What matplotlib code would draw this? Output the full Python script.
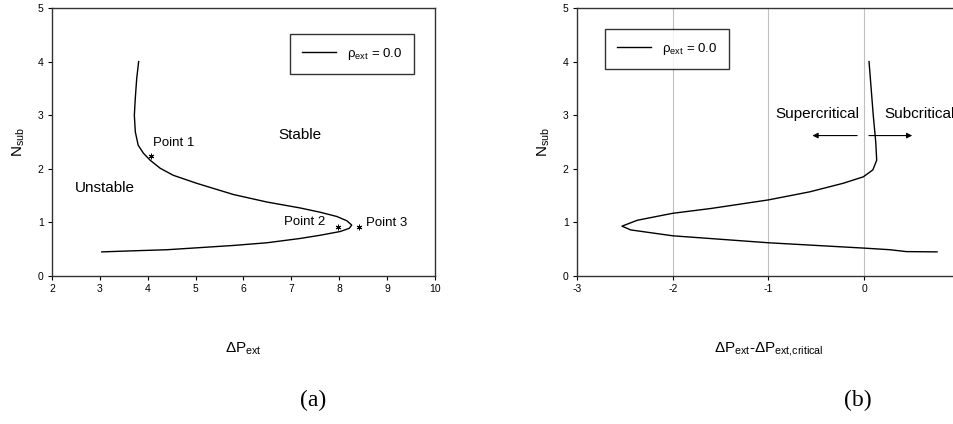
import matplotlib
matplotlib.use('Agg')
import matplotlib.pyplot as plt

plt.rcParams['font.family'] = ['Liberation Sans', 'DejaVu Sans']
plt.rcParams['mathtext.default'] = 'regular'
plt.rcParams['axes.unicode_minus'] = False

# (a) N_sub vs dP_ext
dp_a = [3.81, 3.77, 3.74, 3.72, 3.74, 3.80, 3.91, 4.05, 4.26, 4.53, 5.02, 5.79, 6.49,
        7.18, 7.60, 7.95, 8.16, 8.26, 8.21, 8.02, 7.60, 7.18, 6.49, 5.79, 5.10, 4.40,
        3.70, 3.04]
ns_a = [4.00, 3.69, 3.32, 3.00, 2.69, 2.44, 2.29, 2.16, 2.01, 1.88, 1.73, 1.52, 1.38,
        1.27, 1.19, 1.11, 1.03, 0.95, 0.89, 0.83, 0.76, 0.70, 0.62, 0.57, 0.53, 0.49,
        0.47, 0.45]
pts_x = [4.07, 7.98, 8.42]
pts_y = [2.23, 0.92, 0.92]

# (b) N_sub vs dP_ext - dP_crit
dp_b = [0.05, 0.094, 0.12, 0.13, 0.09, -0.01, -0.22, -0.57, -1.0, -1.60, -2.0, -2.37,
        -2.53, -2.44, -2.0, -1.0, 0.0, 0.27, 0.44, 0.76]
ns_b = [4.00, 3.00, 2.50, 2.16, 1.98, 1.85, 1.73, 1.57, 1.42, 1.26, 1.17, 1.04,
        0.93, 0.86, 0.75, 0.62, 0.52, 0.49, 0.455, 0.45]

fig = plt.figure(figsize=(9.54, 4.24), dpi=100)
ax1 = fig.add_axes([52/954, 1-276/424, 383/954, 268/424])
ax2 = fig.add_axes([577/954, 1-276/424, 383/954, 268/424])

for ax in (ax1, ax2):
    ax.set_ylim(0, 5)
    ax.set_yticks(range(0, 6))
    ax.tick_params(direction='out', length=3, width=0.8, labelsize=7.5, pad=3)
    for s in ax.spines.values():
        s.set_linewidth(1.0)
        s.set_color('#333333')
    ax.set_ylabel('N$_{sub}$', fontsize=11)
    ax.yaxis.set_label_coords(-0.065, 0.5)

# panel (a)
ax1.plot(dp_a, ns_a, color='black', lw=1.0, label=r'$\rho_{ext}$ = 0.0')
ax1.plot(pts_x, pts_y, ls='none', marker=(6, 2, 0), ms=4, mew=0.7, color='black')
ax1.set_xlim(2, 10)
ax1.set_xticks(range(2, 11))
ax1.set_xlabel('ΔP$_{ext}$', fontsize=11)
ax1.xaxis.set_label_coords(0.5, -0.24)
ax1.text(4.12, 2.49, 'Point 1', fontsize=9.5, va='center')
ax1.text(7.7, 1.0, 'Point 2', fontsize=9.5, va='center', ha='right')
ax1.text(8.56, 0.98, 'Point 3', fontsize=9.5, va='center')
ax1.text(7.18, 2.63, 'Stable', fontsize=11, va='center', ha='center')
ax1.text(2.47, 1.64, 'Unstable', fontsize=11, va='center')
leg = ax1.legend(loc='upper right', bbox_to_anchor=(0.945, 0.903), fancybox=False,
                 edgecolor='black', fontsize=9.5, handlelength=2.6, borderpad=0.9,
                 handletextpad=0.8, borderaxespad=0)
leg.get_frame().set_linewidth(1.0)

# panel (b)
for g in [-2, -1, 0]:
    ax2.axvline(g, color='#c0c0c0', lw=0.8, zorder=0)
ax2.plot(dp_b, ns_b, color='black', lw=1.0, label=r'$\rho_{ext}$ = 0.0')
ax2.set_xlim(-3, 1)
ax2.set_xticks([-3, -2, -1, 0])
ax2.set_xlabel('ΔP$_{ext}$-ΔP$_{ext{,}critical}$', fontsize=11)
ax2.xaxis.set_label_coords(0.5, -0.24)
ax2.annotate('', xy=(-0.57, 2.62), xytext=(-0.045, 2.62),
             arrowprops=dict(arrowstyle='-|>', color='black', lw=0.8, mutation_scale=8))
ax2.annotate('', xy=(0.53, 2.62), xytext=(0.02, 2.62),
             arrowprops=dict(arrowstyle='-|>', color='black', lw=0.8, mutation_scale=8))
ax2.text(-0.49, 3.02, 'Supercritical', fontsize=11, va='center', ha='center')
ax2.text(0.21, 3.02, 'Subcritical', fontsize=11, va='center')
leg2 = ax2.legend(loc='upper left', bbox_to_anchor=(0.073, 0.922), fancybox=False,
                  edgecolor='black', fontsize=9.5, handlelength=2.6, borderpad=0.9,
                  handletextpad=0.8, borderaxespad=0)
leg2.get_frame().set_linewidth(1.0)

fig.text(313/954, 1-400/424, '(a)', fontsize=17, family='Liberation Serif',
         ha='center', va='center')
fig.text(858/954, 1-400/424, '(b)', fontsize=17, family='Liberation Serif',
         ha='center', va='center')

fig.savefig('out.png', dpi=100)
